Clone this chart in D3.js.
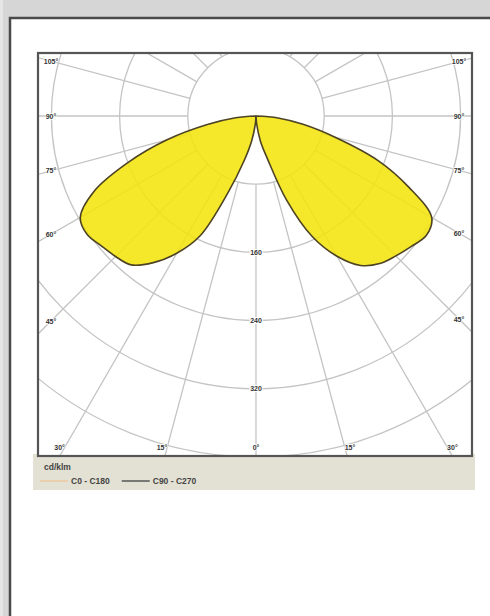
<!DOCTYPE html>
<html><head><meta charset="utf-8">
<script src="https://cdn.jsdelivr.net/npm/d3@7"></script>
<style>html,body{margin:0;padding:0;background:#d6d6d6;overflow:hidden;} svg{display:block;}</style>
</head><body>
<svg id="chart" width="490" height="616"></svg>
<script>
// ---- data ----
const gammaAngles   = [0,5,10,15,20,25,30,35,40,45,50,55,60,65,70,75,80,85,90];
const intensityC0   = [0,10,30,52,105,156,190,214,226,232,238,244,238,198,152,96,56,26,0];
const intensityC180 = [0,10,30,55,95,155,186,210,228,233,237,242,238,210,160,108,58,24,0];
const radialTicks   = [80,160,240,320,400];
const radialLabels  = [160,240,320];
const angleTicks    = [-105,-90,-75,-60,-45,-30,-15,0,15,30,45,60,75,90,105];
const gridAngles    = d3.range(0,360,15);
const unitLabel     = "cd/klm";
const legendLabels  = ["C0 - C180","C90 - C270"];
const legendColors  = ["#ebc7a4","#555555"];

// ---- layout ----
const svg = d3.select("#chart");
const frame = {x:38, y:53, w:434, h:403};
const cx = 256, cy = 116;
const r = d3.scaleLinear().domain([0,400]).range([0,341]);
const rad = d => d*Math.PI/180;
const FONT = "Liberation Sans, Arial, sans-serif";

// page panel
svg.append("rect").attr("x",0).attr("y",0).attr("width",490).attr("height",616).attr("fill","#d6d6d6");
svg.append("rect").attr("x",0).attr("y",0).attr("width",3).attr("height",616).attr("fill","#e6e6e6");
svg.append("rect").attr("x",10).attr("y",18).attr("width",490).attr("height",620)
  .attr("fill","#ffffff").attr("stroke","#4a4a4a").attr("stroke-width",2.5);

// legend background
svg.append("rect").attr("x",33).attr("y",454).attr("width",442).attr("height",36).attr("fill","#e3e1d3");

// chart frame background
svg.append("rect").attr("x",frame.x).attr("y",frame.y).attr("width",frame.w).attr("height",frame.h).attr("fill","#fff");

svg.append("clipPath").attr("id","clip").append("rect")
  .attr("x",frame.x).attr("y",frame.y).attr("width",frame.w).attr("height",frame.h);

const grid = svg.append("g").attr("clip-path","url(#clip)");
grid.selectAll("circle.g").data(radialTicks).join("circle")
  .attr("cx",cx).attr("cy",cy).attr("r",d=>r(d))
  .attr("fill","none").attr("stroke","#c4c4c4").attr("stroke-width",1.3);
grid.selectAll("line.g").data(gridAngles).join("line")
  .attr("x1",d=>cx+r(80)*Math.sin(rad(d))).attr("y1",d=>cy+r(80)*Math.cos(rad(d)))
  .attr("x2",d=>cx+r(900)*Math.sin(rad(d))).attr("y2",d=>cy+r(900)*Math.cos(rad(d)))
  .attr("stroke","#c4c4c4").attr("stroke-width",1.3);

// lobes
const right = gammaAngles.map((g,i)=>({a:Math.PI-rad(g), v:intensityC0[i]}));
const left  = gammaAngles.map((g,i)=>({a:Math.PI+rad(g), v:intensityC180[i]}));
const radial = d3.lineRadial().angle(d=>d.a).radius(d=>r(d.v)).curve(d3.curveCatmullRom.alpha(0.5));
const lobes = svg.append("g").attr("transform",`translate(${cx},${cy})`);
[left,right].forEach(pts=>{
  lobes.append("path").attr("d",radial(pts)+"Z")
    .attr("fill","#f4e30a").attr("fill-opacity",0.87)
    .attr("stroke","#4d4323").attr("stroke-width",1.6).attr("stroke-linejoin","round");
});

// frame border
svg.append("rect").attr("x",frame.x).attr("y",frame.y).attr("width",frame.w).attr("height",frame.h)
  .attr("fill","none").attr("stroke","#555").attr("stroke-width",2.2);

// radial value labels
svg.selectAll("text.rl").data(radialLabels).join("text")
  .attr("x",cx).attr("y",d=>cy+r(d)+2.5).attr("text-anchor","middle")
  .attr("font-family",FONT).attr("font-size",7).attr("font-weight","bold")
  .attr("fill","#333").attr("stroke","#fff").attr("stroke-width",2).attr("paint-order","stroke")
  .text(d=>d);

// angle labels: where the ray meets an inset rectangle
const inset = {x0:frame.x+13, x1:frame.x+frame.w-13, y1:frame.y+frame.h-9};
angleTicks.forEach(a=>{
  const sx = Math.sin(rad(a)), sy = Math.cos(rad(a));
  let t = Infinity, side = "";
  if (sx < -1e-9) { const tt=(inset.x0-cx)/sx; if (tt<t){t=tt;side="L";} }
  if (sx >  1e-9) { const tt=(inset.x1-cx)/sx; if (tt<t){t=tt;side="R";} }
  if (sy >  1e-9) { const tt=(inset.y1-cy)/sy; if (tt<t){t=tt;side="B";} }
  const px = cx + t*sx, py = cy + t*sy;
  let anchor = "middle";
  if (side==="B") anchor = a<0 ? "end" : (a>0 ? "start" : "middle");
  svg.append("text").attr("x",px).attr("y",py+2.5).attr("text-anchor",anchor)
    .attr("font-family",FONT).attr("font-size",7).attr("font-weight","bold")
    .attr("fill","#333").attr("stroke","#fff").attr("stroke-width",1.5).attr("paint-order","stroke")
    .text(Math.abs(a)+"°");
});

// legend
svg.append("text").attr("x",44).attr("y",470).attr("font-family",FONT)
  .attr("font-size",8.5).attr("font-weight","bold").attr("fill","#444").text(unitLabel);
let lx = 40;
legendLabels.forEach((lab,i)=>{
  svg.append("line").attr("x1",lx).attr("x2",lx+28).attr("y1",481).attr("y2",481)
    .attr("stroke",legendColors[i]).attr("stroke-width",1.5);
  const t = svg.append("text").attr("x",lx+31).attr("y",484).attr("font-family",FONT)
    .attr("font-size",8.5).attr("font-weight","bold").attr("fill","#444").text(lab);
  lx += 31 + t.node().getComputedTextLength() + 12;
});
</script>
</body></html>
